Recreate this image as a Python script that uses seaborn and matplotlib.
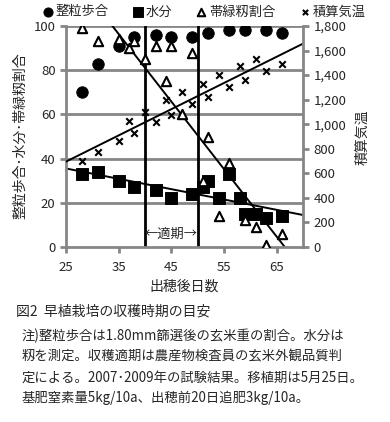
import numpy as np
import pandas as pd
import seaborn as sns
import matplotlib.pyplot as plt
from matplotlib.ticker import FuncFormatter

# 整粒歩合 (%)
seiryu_day = [28, 31, 35, 38, 42, 45, 49, 52, 56, 59, 63, 66]
seiryu_val = [70, 83, 91, 95, 96, 95, 95, 97, 98, 98, 98, 97]

# 水分 (%)
water_day = [28, 31, 35, 38, 42, 45, 49, 51, 52, 54, 56, 58, 59, 61, 63, 66]
water_val = [33, 34, 30, 27, 26, 22, 24, 27, 30, 22, 33, 22, 15, 15, 13, 14]

# 帯緑籾割合 (%)
green_day = [28, 31, 35, 37, 38, 40, 42, 44, 45, 47, 49, 51, 52, 54, 56, 59, 61, 63, 66]
green_val = [99, 93, 94, 90, 93, 85, 91, 75, 91, 60, 88, 30, 50, 14, 38, 12, 9, 1, 6]

# 積算気温 (℃)
temp_day = [28, 31, 35, 37, 38, 40, 42, 44, 45, 47, 49, 51, 52, 54, 56, 58, 59, 61, 63, 66]
temp_val = [700, 770, 860, 1025, 925, 1100, 1020, 1200, 1075, 1265, 1165, 1330, 1225,
            1400, 1300, 1475, 1360, 1530, 1430, 1490]

# 収穫適期
period = [40, 50]

notes = [
    "注)整粒歩合は1.80mm篩選後の玄米重の割合。水分は",
    "籾を測定。収穫適期は農産物検査員の玄米外観品質判",
    "定による。2007･2009年の試験結果。移植期は5月25日。",
    "基肥窒素量5kg/10a、出穂前20日追肥3kg/10a。",
]

sns.set_style('white')
plt.rcParams['font.family'] = ['Noto Sans CJK JP', 'DejaVu Sans']

W, H = 390, 422
fig = plt.figure(figsize=(W / 100, H / 100), dpi=100)
ax = fig.add_axes([66 / W, 1 - 247 / H, (303 - 66) / W, (247 - 26) / H])
ax2 = ax.twinx()

ax.set_xlim(25, 70)
ax.set_ylim(0, 100)
ax2.set_ylim(0, 1800)

grey = '#868686'
for y in [20, 40, 60, 80, 100]:
    ax.axhline(y, color=grey, lw=2, zorder=0)

df_s = pd.DataFrame({'day': seiryu_day, 'val': seiryu_val})
df_w = pd.DataFrame({'day': water_day, 'val': water_val})
df_g = pd.DataFrame({'day': green_day, 'val': green_val})
df_t = pd.DataFrame({'day': temp_day, 'val': temp_val})

# trend lines (linear fits over the whole range)
sns.regplot(data=df_w, x='day', y='val', ax=ax, scatter=False, ci=None, truncate=False,
            line_kws=dict(color='black', lw=1.4))
sns.regplot(data=df_g, x='day', y='val', ax=ax, scatter=False, ci=None, truncate=False,
            line_kws=dict(color='black', lw=1.4))

sns.scatterplot(data=df_s, x='day', y='val', ax=ax, marker='o', s=68, color='black',
                edgecolor='black', label='整粒歩合', zorder=3)
sns.scatterplot(data=df_w, x='day', y='val', ax=ax, marker='s', s=70, color='black',
                edgecolor='black', label='水分', zorder=3)
sns.scatterplot(data=df_g, x='day', y='val', ax=ax, marker='^', s=45, facecolor='white',
                edgecolor='black', linewidth=1.5, label='帯緑籾割合', zorder=3)

for d in period:
    ax.axvline(d, color='black', lw=2, zorder=2)
ax.text(np.mean(period), 3, '←適期→', ha='center', va='bottom', fontsize=9.5)

ax2.set_xlim(25, 70)
sns.regplot(data=df_t, x='day', y='val', ax=ax2, scatter=False, ci=None, truncate=False,
            line_kws=dict(color='black', lw=1.4))
sns.scatterplot(data=df_t, x='day', y='val', ax=ax2, marker='x', s=22, color='black',
                linewidth=1.5, label='積算気温', zorder=3)

# axes styling
ax.set_xticks([25, 35, 45, 55, 65])
ax.set_yticks([0, 20, 40, 60, 80, 100])
ax2.set_yticks(range(0, 1801, 200))
ax2.yaxis.set_major_formatter(FuncFormatter(lambda v, p: f'{int(v):,}'))
for a in (ax, ax2):
    for sp in a.spines.values():
        sp.set_visible(False)
    a.tick_params(labelsize=9.5, length=4, width=2, color=grey, direction='out')
ax.spines['left'].set_visible(True)
ax.spines['bottom'].set_visible(True)
ax2.spines['right'].set_visible(True)
for sp in (ax.spines['left'], ax.spines['bottom'], ax2.spines['right']):
    sp.set_color(grey)
    sp.set_linewidth(2)
ax.tick_params(axis='y', left=True)
ax.tick_params(axis='x', bottom=True, pad=6)
ax2.tick_params(axis='y', right=True)

ax.set_xlabel('')
ax.set_ylabel('')
ax2.set_ylabel('')
ax2.set_xlabel('')
fig.text(20 / W, 1 - 136 / H, '整粒歩合･水分･帯緑籾割合', rotation=90, ha='center', va='center',
         fontsize=10)
fig.text(362 / W, 1 - 137 / H, '積算気温', rotation=90, ha='center', va='center', fontsize=10)
fig.text(184 / W, 1 - 287 / H, '出穂後日数', ha='center', va='center', fontsize=10)

# legend across the top
h1, l1 = ax.get_legend_handles_labels()
h2, l2 = ax2.get_legend_handles_labels()
ax.get_legend().remove()
ax2.get_legend().remove()
fig.legend(h1 + h2, l1 + l2, loc='center', bbox_to_anchor=(0.52, 1 - 12 / H), ncol=4,
           frameon=False, fontsize=9.5, handletextpad=0.0, columnspacing=1.6,
           handlelength=1.2, borderaxespad=0, markerscale=0.8)

fig.text(16 / W, 1 - 312 / H, '図2  早植栽培の収穫時期の目安', ha='left', va='center', fontsize=10)
for i, line in enumerate(notes):
    fig.text(22 / W, 1 - (336 + i * 20.7) / H, line, ha='left', va='center', fontsize=9.6)

fig.savefig('out.png', dpi=100)
